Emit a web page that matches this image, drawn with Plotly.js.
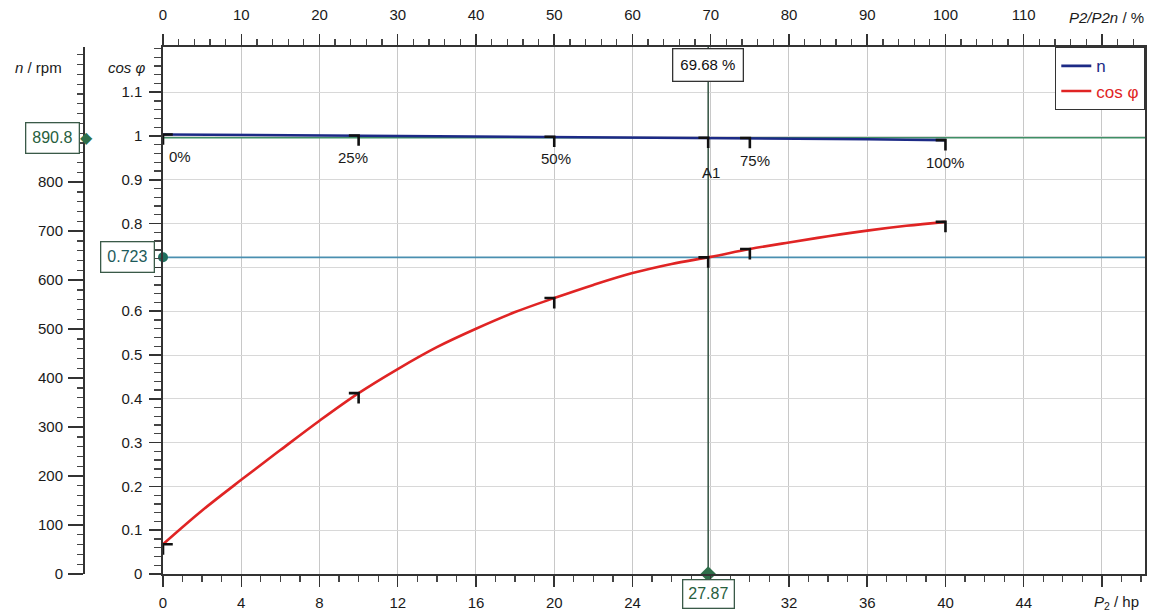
<!DOCTYPE html>
<html>
<head>
<meta charset="utf-8">
<script src="https://cdn.plot.ly/plotly-3.0.1.min.js"></script>
<style>html,body{margin:0;padding:0;background:#fff;}#chart{width:1151px;height:612px;}</style>
</head>
<body>
<div id="chart"></div>
<script>
// ---- data ----
const P2_hp   = [0, 2, 4, 6, 8, 10, 12, 14, 16, 18, 20, 22, 24, 26, 28, 30, 32, 34, 36, 38, 40];
const cosPhi  = [0.068, 0.145, 0.215, 0.283, 0.350, 0.413, 0.468, 0.518, 0.560, 0.598, 0.630, 0.660, 0.687, 0.708, 0.724, 0.742, 0.757, 0.771, 0.784, 0.795, 0.804];
const speed_rpm = [897.5, 897.0, 896.6, 896.2, 895.8, 895.3, 894.8, 894.3, 893.8, 893.2, 892.7, 892.2, 891.7, 891.3, 890.8, 890.1, 889.3, 888.5, 887.6, 886.7, 885.8];

const loadLabels = ['0%', '25%', '50%', 'A1', '75%', '100%'];
const loadP2     = [0, 10, 20, 27.87, 30, 40];
const loadCos    = [0.068, 0.413, 0.630, 0.723, 0.742, 0.804];
const loadN      = [897.5, 895.3, 892.7, 890.8, 890.1, 885.8];

const opP2 = 27.87;
const opPct = 69.68;
const opN = 890.8;
const opCos = 0.723;

const P2n = 40;               // rated power, hp (100 %)
const xTicks = [0,4,8,12,16,20,24,28,32,36,40,44,48];
const pctTicks = [0,10,20,30,40,50,60,70,80,90,100,110,120];
const cosTicks = [0,0.1,0.2,0.3,0.4,0.5,0.6,0.7,0.8,0.9,1,1.1];
const nTicks = [0,100,200,300,400,500,600,700,800];

// ---- geometry constants (style) ----
const X_MAX = 50.2, COS_MAX = 1.2032, N_MAX = 1076;
const hookDx = 0.5, hookDyCos = 0.024, hookDyN = 21;

function hooks(xs, ys, dy) {
  const hx = [], hy = [];
  xs.forEach((x, i) => {
    const dir = (x === 0) ? 1 : -1;
    hx.push(x + dir*hookDx, x, x, null);
    hy.push(ys[i], ys[i], ys[i]-dy, null);
  });
  return {hx, hy};
}
const hc = hooks(loadP2, loadCos, hookDyCos);
const hn = hooks(loadP2, loadN, hookDyN);

const traces = [
  {x:[0, X_MAX], y:[opN, opN], yaxis:'y2', mode:'lines', line:{color:'#3f8f66', width:1.6}, showlegend:false, hoverinfo:'skip'},
  {x:[0, X_MAX], y:[opCos, opCos], mode:'lines', line:{color:'#4a8fb0', width:1.6}, showlegend:false, hoverinfo:'skip'},
  {x:[opP2, opP2], y:[0, COS_MAX], mode:'lines', line:{color:'#3e5c4c', width:1.6}, showlegend:false, hoverinfo:'skip'},
  {x:P2_hp, y:speed_rpm, yaxis:'y2', mode:'lines', name:'<span style="color:#1c2a86">n</span>', line:{color:'#1c2a86', width:2.6}},
  {x:P2_hp, y:cosPhi, mode:'lines', name:'<span style="color:#e02424">cos φ</span>', line:{color:'#e02424', width:2.6, shape:'spline'}},
  {x:hn.hx, y:hn.hy, yaxis:'y2', mode:'lines', line:{color:'#111', width:2.6}, showlegend:false, hoverinfo:'skip', connectgaps:false},
  {x:hc.hx, y:hc.hy, mode:'lines', line:{color:'#111', width:2.6}, showlegend:false, hoverinfo:'skip', connectgaps:false},
  {x:[0], y:[opCos], mode:'markers', marker:{symbol:'circle', size:10, color:'#1f6f5f'}, cliponaxis:false, showlegend:false, hoverinfo:'skip'},
  {x:[opP2], y:[0], mode:'markers', marker:{symbol:'diamond', size:12, color:'#2f6f4a'}, cliponaxis:false, showlegend:false, hoverinfo:'skip'},
  {x:[0, X_MAX/P2n*100], y:[null, null], xaxis:'x2', mode:'lines', showlegend:false, hoverinfo:'skip'}
];

const L = 20, R = 6, T = 47, B = 38, W = 1151, H = 612;
const PW = W - L - R, PH = H - T - B;
const px2paper = p => (p - L) / PW;
const py2paper = p => (H - B - p) / PH;
const FAM = 'Liberation Sans, Arial, sans-serif';
const tickFont = {family:FAM, size:15, color:'#1a1a1a'};

const annotations = [];
loadLabels.forEach((t, i) => {
  const isA = t === 'A1';
  const shiftX = [4, -6, 2, 3, 5, 0][i];
  annotations.push({x: loadP2[i], y: loadN[i], yref:'y2', xref:'x', text: t, showarrow:false,
    xanchor: i === 0 ? 'left' : 'center', yanchor:'middle', xshift: shiftX, yshift: isA ? -35 : -22,
    font:{family:FAM, size:15, color:'#1a1a1a'}});
});
annotations.push(
  {x: opP2, y:1, xref:'x', yref:'paper', yanchor:'top', yshift:-1, text: opPct.toFixed(2)+' %', showarrow:false,
   bgcolor:'#fff', bordercolor:'#333', borderwidth:1.3, borderpad:7, font:{family:FAM, size:15, color:'#111'}},
  {x: px2paper(86), y: opN, xref:'paper', yref:'y2', text:'◆', showarrow:false, xanchor:'center', yanchor:'middle',
   font:{size:16, color:'#2f6f4a'}},
  {x: px2paper(80), y: opN, xref:'paper', yref:'y2', xanchor:'right', yanchor:'middle', text: opN.toFixed(1), showarrow:false,
   bgcolor:'#fff', bordercolor:'#3a5a48', borderwidth:1.3, borderpad:6, font:{family:FAM, size:16, color:'#27603d'}},
  {x: px2paper(155), y: opCos, xref:'paper', yref:'y', xanchor:'right', yanchor:'middle', text: opCos.toFixed(3), showarrow:false,
   bgcolor:'#fff', bordercolor:'#3a5a48', borderwidth:1.3, borderpad:6, font:{family:FAM, size:16, color:'#1d5a5a'}},
  {x: opP2, y:0, xref:'x', yref:'paper', yanchor:'top', yshift:-5, text: opP2.toFixed(2), showarrow:false,
   bgcolor:'#fff', bordercolor:'#3a5a48', borderwidth:1.3, borderpad:5, font:{family:FAM, size:16, color:'#27603d'}},
  {x: px2paper(38), y: py2paper(68), xref:'paper', yref:'paper', xanchor:'center', yanchor:'middle', text:'<i>n</i> / rpm', showarrow:false,
   font:{family:FAM, size:15, color:'#1a1a1a'}},
  {x: px2paper(127), y: py2paper(68), xref:'paper', yref:'paper', xanchor:'center', yanchor:'middle', text:'<i>cos φ</i>', showarrow:false,
   font:{family:FAM, size:15, color:'#1a1a1a'}},
  {x: px2paper(1146), y: py2paper(17), xref:'paper', yref:'paper', xanchor:'right', yanchor:'middle', text:'<i>P2/P2n</i> / %', showarrow:false,
   font:{family:FAM, size:15, color:'#1a1a1a'}},
  {x: px2paper(1141), y: py2paper(602), xref:'paper', yref:'paper', xanchor:'right', yanchor:'middle', text:'<i>P</i><sub>2</sub> / hp', showarrow:false,
   font:{family:FAM, size:15, color:'#1a1a1a'}}
);

const layout = {
  width: W, height: H,
  margin: {l:L, r:R, t:T, b:B},
  paper_bgcolor:'#fff', plot_bgcolor:'#fff',
  font: tickFont,
  showlegend: true,
  legend: {x:1, xanchor:'right', y:1, yanchor:'top', bgcolor:'#fff', bordercolor:'#333', borderwidth:1.3,
           font:{family:FAM, size:17}, itemwidth:30, tracegroupgap:2},
  xaxis: {domain:[px2paper(163), 1], range:[0, X_MAX], tickmode:'array', tickvals:xTicks,
          ticktext: xTicks.map(v => (v === 48 || v === 28) ? ' ' : String(v)),
          ticks:'outside', ticklen:11, tickwidth:1.5, tickcolor:'#333', showline:true, linecolor:'#333', linewidth:1.6,
          showgrid:true, gridcolor:'#c8c8c8', gridwidth:1, zeroline:false, ticklabelstandoff:3, tickfont:tickFont,
          minor:{tickmode:'linear', tick0:0, dtick:1, ticks:'outside', ticklen:6, tickwidth:1.3, tickcolor:'#444', showgrid:false}},
  xaxis2: {overlaying:'x', side:'top', anchor:'y', range:[0, X_MAX/P2n*100], tickmode:'array', tickvals:pctTicks,
          ticktext: pctTicks.map(v => v === 120 ? ' ' : String(v)),
          ticks:'outside', ticklen:11, tickwidth:1.5, tickcolor:'#333', showline:true, linecolor:'#333', linewidth:1.6,
          showgrid:false, zeroline:false, ticklabelstandoff:8, tickfont:tickFont,
          minor:{tickmode:'linear', tick0:0, dtick:2, ticks:'outside', ticklen:6, tickwidth:1.3, tickcolor:'#444', showgrid:false}},
  yaxis: {range:[0, COS_MAX], tickmode:'array', tickvals:cosTicks,
          ticktext: cosTicks.map(v => v === 0.7 ? ' ' : String(v)),
          ticks:'outside', ticklen:12, tickwidth:1.5, tickcolor:'#333',
          showline:true, mirror:true, linecolor:'#333', linewidth:1.6, showgrid:true, gridcolor:'#d8d8d8', zeroline:false,
          ticklabelstandoff:4, tickfont:tickFont,
          minor:{tickmode:'linear', tick0:0, dtick:0.02, ticks:'outside', ticklen:7, tickwidth:1.3, tickcolor:'#444', showgrid:false}},
  yaxis2: {overlaying:'y', anchor:'free', position: px2paper(83), side:'left', range:[0, N_MAX], tickmode:'array',
          tickvals:nTicks, ticks:'outside', ticklen:15, tickwidth:1.5, tickcolor:'#333',
          showline:true, linecolor:'#333', linewidth:1.6, showgrid:false, zeroline:false, ticklabelstandoff:2, tickfont:tickFont,
          minor:{tickmode:'linear', tick0:0, dtick:20, ticks:'outside', ticklen:6, tickwidth:1.3, tickcolor:'#444', showgrid:false}},
  annotations: annotations
};

Plotly.newPlot('chart', traces, layout, {displayModeBar:false, staticPlot:true});
</script>
</body>
</html>
